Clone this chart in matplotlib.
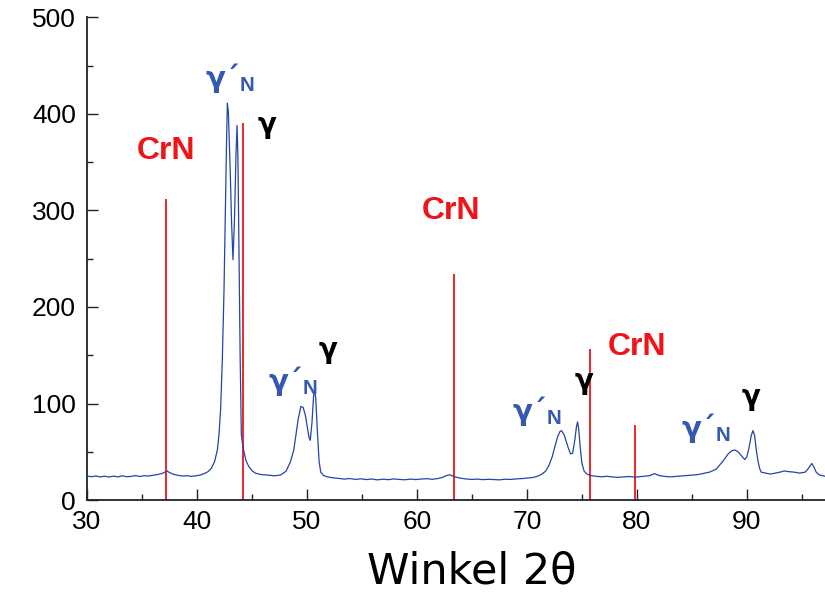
import matplotlib
matplotlib.use("Agg")
import matplotlib.pyplot as plt
from matplotlib.ticker import MultipleLocator

plt.rcParams['font.family'] = ['Liberation Sans', 'DejaVu Sans']
plt.rcParams['mathtext.fontset'] = 'custom'
plt.rcParams['mathtext.bf'] = 'Liberation Sans:bold'
plt.rcParams['mathtext.rm'] = 'Liberation Sans'

angle = [
    30.0, 30.4, 30.8, 31.2, 31.6, 32.0, 32.4, 32.8, 33.2, 33.6, 34.0, 34.4, 34.8,
    35.2, 35.6, 36.0, 36.4, 36.8, 37.05, 37.25, 37.5, 37.9, 38.3, 38.7, 39.1,
    39.5, 39.9, 40.3, 40.65, 41.0, 41.3, 41.6, 41.85, 42.0, 42.15, 42.3, 42.45,
    42.6, 42.7, 42.76, 42.85, 43.0, 43.15, 43.27, 43.4, 43.55, 43.64, 43.72,
    43.82, 43.92, 44.03, 44.15, 44.27, 44.45, 44.7, 45.0, 45.3, 45.8, 46.4,
    47.0, 47.6, 48.1, 48.5, 48.8, 49.0, 49.2, 49.45, 49.65, 49.85, 50.05,
    50.2, 50.3, 50.45, 50.6, 50.7, 50.8, 50.95, 51.1, 51.25, 51.5, 51.9, 52.3,
    52.9, 53.4, 53.9, 54.4, 54.9, 55.4, 55.9, 56.4, 56.9, 57.4, 57.9, 58.4,
    58.9, 59.4, 59.9, 60.4, 60.9, 61.4, 61.9, 62.3, 62.7, 63.0, 63.3, 63.7,
    64.1, 64.5, 65.0, 65.5, 66.0, 66.5, 67.0, 67.5, 68.0, 68.5, 69.0, 69.5,
    70.0, 70.5, 70.9, 71.3, 71.7, 72.0, 72.3, 72.55, 72.8, 73.0, 73.15, 73.4,
    73.7, 73.95, 74.15, 74.35, 74.5, 74.6, 74.7, 74.85, 75.0, 75.2, 75.45,
    75.8, 76.3, 76.8, 77.3, 77.8, 78.3, 78.8, 79.3, 79.8, 80.3, 80.8, 81.2,
    81.6, 82.0, 82.5, 83.0, 83.5, 84.0, 84.5, 85.0, 85.5, 86.0, 86.6, 87.2,
    87.8, 88.3, 88.6, 88.9, 89.2, 89.5, 89.8, 90.0, 90.2, 90.4, 90.55, 90.7,
    90.85, 91.0, 91.15, 91.3, 91.7, 92.1, 92.6, 93.0, 93.4, 93.8, 94.3, 94.8,
    95.3, 95.6, 95.9, 96.1, 96.3, 96.6, 97.0, 97.4,
]
counts = [
    25.0, 24.2, 25.1, 24.0, 24.8, 23.9, 24.9, 24.1, 25.2, 24.3, 24.6, 25.4, 24.5,
    25.3, 25.0, 25.8, 26.5, 27.6, 28.8, 30.5, 28.5, 26.6, 25.6, 25.0, 25.3,
    24.6, 25.2, 26.0, 27.5, 29.5, 33.0, 40.0, 52.0, 68.0, 95.0, 145.0, 215.0,
    315.0, 380.0, 411.0, 402.0, 348.0, 285.0, 249.0, 288.0, 360.0, 388.0, 355.0,
    255.0, 150.0, 68.0, 57.0, 50.0, 41.0, 35.0, 30.5, 28.0, 26.5, 26.0,
    25.2, 26.0, 30.0, 40.0, 52.0, 68.0, 84.0, 97.0, 96.0, 88.0, 74.0,
    64.0, 62.0, 80.0, 108.0, 116.0, 104.0, 70.0, 40.0, 29.0, 25.5, 24.0, 23.2,
    22.5, 21.8, 22.4, 21.5, 22.1, 21.3, 21.9, 21.0, 21.7, 21.2, 22.0, 21.4,
    21.1, 21.8, 21.3, 21.9, 22.2, 21.6, 22.4, 23.5, 25.5, 26.2, 24.8, 23.4,
    22.5, 21.9, 21.4, 21.8, 21.2, 21.6, 21.3, 21.0, 21.7, 21.4, 22.0, 22.3,
    22.8, 23.4, 24.5, 26.5, 30.0, 36.0, 45.0, 56.0, 66.0, 71.0, 72.0, 67.0,
    56.0, 48.0, 48.5, 62.0, 76.0, 81.0, 74.0, 54.0, 38.0, 30.0, 27.0,
    25.5, 24.6, 24.2, 24.7, 24.0, 23.6, 24.1, 24.5, 23.8, 24.3, 24.9, 25.5,
    27.5, 25.6, 24.6, 24.1, 24.6, 25.0, 25.4, 25.9, 26.4, 27.6, 29.0, 32.0,
    40.0, 48.0, 51.0, 52.0, 50.0, 46.0, 42.0, 45.0, 55.0, 67.0, 72.0, 67.0,
    52.0, 41.0, 33.0, 29.0, 28.0, 27.0, 28.0, 29.0, 30.2, 29.5, 29.0, 28.0,
    29.0, 33.0, 38.0, 34.0, 29.0, 26.0, 25.0, 24.0,
]

# Referenzlinien (PDF-Karten)
ref_pos = [37.2, 44.15, 63.4, 75.7, 79.8]
ref_height = [312, 390, 234, 156, 78]

# Beschriftungen
crn_pos = [(37.2, 362), (63.1, 299), (80.0, 159)]
gamma_pos = [(46.4, 388), (51.9, 155), (75.2, 123), (90.4, 107)]
gamma_n_pos = [(43.0, 437), (48.7, 123), (70.9, 92), (86.3, 75)]

line_blue = '#2246a8'
label_blue = '#3558b0'
red = '#f01418'

fig = plt.figure(figsize=(8.25, 5.94), dpi=100)
ax = fig.add_axes([0.1055, 0.158, 0.8945, 0.813])

ax.plot(angle, counts, color=line_blue, lw=0.9, zorder=3)
ax.vlines(ref_pos, 0, ref_height, color=red, lw=1.3, zorder=2)

for x, y in crn_pos:
    ax.text(x, y, 'CrN', color=red, fontsize=23, fontweight='bold',
            ha='center', va='center')
for x, y in gamma_pos:
    ax.text(x, y, 'γ', color='black', fontsize=20, fontweight='bold',
            family='DejaVu Sans', ha='center', va='center')
for x, y in gamma_n_pos:
    ax.text(x, y, 'γ´$_\\mathbf{N}$', color=label_blue, fontsize=21,
            fontweight='bold', family='DejaVu Sans', ha='center', va='center')

ax.set_xlim(30, 97.1)
ax.set_ylim(0, 500)
ax.xaxis.set_major_locator(MultipleLocator(10))
ax.xaxis.set_minor_locator(MultipleLocator(5))
ax.yaxis.set_major_locator(MultipleLocator(100))
ax.yaxis.set_minor_locator(MultipleLocator(50))

for side in ['top', 'right']:
    ax.spines[side].set_visible(False)
for side in ['left', 'bottom']:
    ax.spines[side].set_linewidth(1.3)
    ax.spines[side].set_color('#222222')

ax.tick_params(which='major', direction='in', length=8, width=1.0,
               labelsize=19, colors='#222222')
ax.tick_params(which='minor', direction='in', length=4, width=1.0,
               colors='#222222')
ax.tick_params(axis='y', pad=8)
ax.tick_params(axis='x', pad=7)
for lab in ax.get_xticklabels() + ax.get_yticklabels():
    lab.set_color('black')

fig.text(472 / 825, 1 - 572 / 594, 'Winkel 2θ', fontsize=31,
         family='DejaVu Sans', ha='center', va='center')

fig.savefig('out.png', dpi=100)
